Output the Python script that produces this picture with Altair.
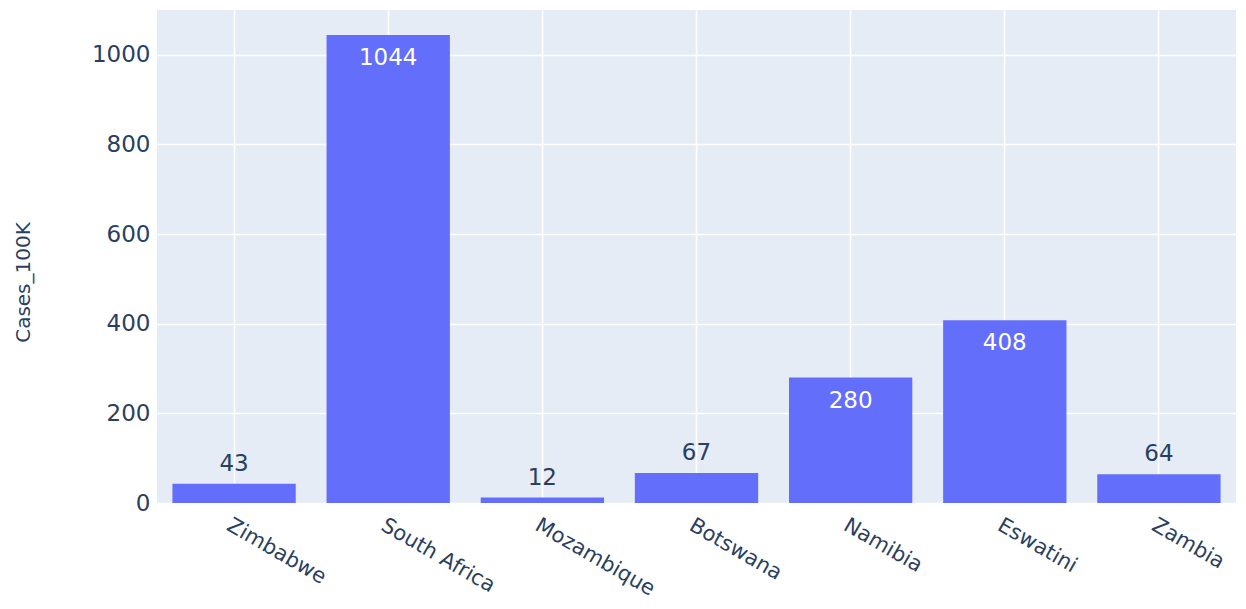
import altair as alt
import pandas as pd

countries = ["Zimbabwe", "South Africa", "Mozambique", "Botswana", "Namibia", "Eswatini", "Zambia"]
cases_100k = [43, 1044, 12, 67, 280, 408, 64]

df = pd.DataFrame({"Country": countries, "Cases_100K": cases_100k})

FONT = "DejaVu Sans"
TXT = "#2a3f5f"
BAR = "#636efa"

x = alt.X("Country:N", sort=countries, title=None,
          scale=alt.Scale(paddingInner=0.2, paddingOuter=0.1),
          axis=alt.Axis(labelAngle=30, labelAlign="left", labelBaseline="top",
                        labelPadding=11, ticks=False, domain=False, grid=True,
                        bandPosition=0.5, gridColor="white", gridWidth=1.6,
                        labelFont=FONT, labelFontSize=21, labelColor=TXT))
y = alt.Y("Cases_100K:Q", title="Cases_100K",
          scale=alt.Scale(domain=[0, 1100], nice=False),
          axis=alt.Axis(values=[0, 200, 400, 600, 800, 1000], format="d",
                        ticks=False, domain=False,
                        gridColor="white", gridWidth=1.6, labelPadding=7,
                        labelFont=FONT, labelFontSize=23, labelColor=TXT,
                        titleFont=FONT, titleFontSize=20, titleColor=TXT,
                        titleFontWeight="normal", titlePadding=58, titleY=272))

base = alt.Chart(df)
bars = base.mark_bar(color=BAR).encode(x=x, y=y)
inside = base.transform_filter(alt.datum.Cases_100K >= 200).mark_text(
    baseline="alphabetic", dy=30, font=FONT, fontSize=23, color="white"
).encode(x=alt.X("Country:N", sort=countries), y="Cases_100K:Q", text="Cases_100K:Q")
outside = base.transform_filter(alt.datum.Cases_100K < 200).mark_text(
    baseline="alphabetic", dy=-13, font=FONT, fontSize=23, color=TXT
).encode(x=alt.X("Country:N", sort=countries), y="Cases_100K:Q", text="Cases_100K:Q")

chart = (bars + inside + outside).properties(
    width=1079, height=493,
    autosize=alt.AutoSizeParams(type="none"),
    padding={"left": 149, "top": 2, "right": 2, "bottom": 97},
    background="white",
).configure_view(fill="#E5ECF6", stroke=None)

chart.save("out.html", embed_options={"renderer": "svg", "actions": False})
